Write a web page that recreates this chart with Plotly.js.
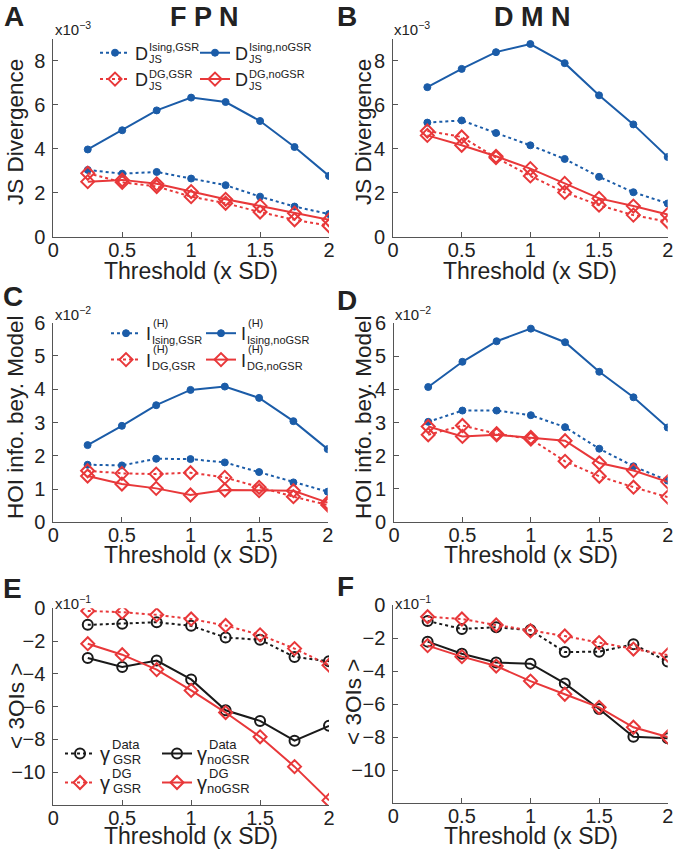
<!DOCTYPE html>
<html><head><meta charset="utf-8">
<script src="https://cdn.plot.ly/plotly-3.0.1.min.js"></script>
<style>html,body{margin:0;padding:0;background:#fff}#chart{width:676px;height:853px}</style>
</head><body><div id="chart"></div>
<script>
// ---------------- DATA ----------------
const thresholds = [0.25, 0.5, 0.75, 1, 1.25, 1.5, 1.75, 2];
const xTicks = [0, 0.5, 1, 1.5, 2];
const yTicksJS = [0, 2, 4, 6, 8];
const yTicksHOI = [0, 1, 2, 3, 4, 5, 6];
const yTicks3OI = [-10, -8, -6, -4, -2, 0];

// A: FPN, JS divergence (x1e-3)
const fpnJsIsingGSR   = [3.04, 2.87, 2.95, 2.65, 2.35, 1.83, 1.38, 1.04];
const fpnJsIsingNoGSR = [3.97, 4.84, 5.74, 6.32, 6.12, 5.26, 4.08, 2.77];
const fpnJsDgGSR      = [2.89, 2.48, 2.29, 1.83, 1.53, 1.13, 0.78, 0.51];
const fpnJsDgNoGSR    = [2.51, 2.59, 2.41, 2.06, 1.71, 1.41, 1.08, 0.78];
// B: DMN, JS divergence (x1e-3)
const dmnJsIsingGSR   = [5.18, 5.28, 4.71, 4.15, 3.53, 2.72, 2.02, 1.51];
const dmnJsIsingNoGSR = [6.79, 7.62, 8.38, 8.75, 7.88, 6.42, 5.10, 3.62];
const dmnJsDgGSR      = [4.80, 4.53, 3.59, 2.76, 2.01, 1.43, 0.98, 0.68];
const dmnJsDgNoGSR    = [4.60, 4.15, 3.65, 3.09, 2.42, 1.74, 1.39, 1.01];
// C: FPN, HOI info beyond model (x1e-2)
const fpnHoiIsingGSR   = [1.73, 1.71, 1.91, 1.90, 1.80, 1.51, 1.20, 0.92];
const fpnHoiIsingNoGSR = [2.32, 2.90, 3.52, 3.98, 4.08, 3.74, 3.04, 2.20];
const fpnHoiDgGSR      = [1.55, 1.47, 1.45, 1.49, 1.35, 1.05, 0.77, 0.52];
const fpnHoiDgNoGSR    = [1.39, 1.15, 1.02, 0.82, 0.97, 0.95, 0.95, 0.59];
// D: DMN, HOI info beyond model (x1e-2)
const dmnHoiIsingGSR   = [3.02, 3.36, 3.36, 3.22, 2.86, 2.21, 1.68, 1.25];
const dmnHoiIsingNoGSR = [4.07, 4.83, 5.45, 5.83, 5.42, 4.53, 3.76, 2.85];
const dmnHoiDgGSR      = [2.63, 2.91, 2.66, 2.50, 1.83, 1.38, 1.05, 0.75];
const dmnHoiDgNoGSR    = [2.88, 2.58, 2.63, 2.55, 2.45, 1.78, 1.55, 1.21];
// E: FPN, <3OIs> (x1e-1)
const fpn3oiDataGSR   = [-1.01, -0.95, -0.85, -1.07, -1.78, -1.92, -2.97, -3.23];
const fpn3oiDataNoGSR = [-3.03, -3.58, -3.19, -4.34, -6.22, -6.87, -8.08, -7.17];
const fpn3oiDgGSR     = [-0.16, -0.24, -0.40, -0.65, -1.05, -1.62, -2.46, -3.47];
const fpn3oiDgNoGSR   = [-2.16, -2.83, -3.74, -5.01, -6.36, -7.84, -9.66, -11.72];
// F: DMN, <3OIs> (x1e-1)
const dmn3oiDataGSR   = [-0.97, -1.45, -1.35, -1.52, -2.85, -2.83, -2.38, -3.43];
const dmn3oiDataNoGSR = [-2.22, -2.95, -3.49, -3.56, -4.75, -6.30, -7.98, -8.08];
const dmn3oiDgGSR     = [-0.71, -0.85, -1.21, -1.56, -1.88, -2.28, -2.67, -3.03];
const dmn3oiDgNoGSR   = [-2.46, -3.13, -3.70, -4.61, -5.41, -6.20, -7.41, -8.00];

// ---------------- STYLE ----------------
const W = 676, H = 853;
const FONT = 'Liberation Sans, Arial, Helvetica, sans-serif';
const BLUE = '#1b5ca8', RED = '#e8383a', BLACK = '#1a1a1a';
const px = v => v / W, py = v => 1 - v / H;

const sty = {
  isingGSR:   {color: BLUE, dash: 'dot',   symbol: 'circle', size: 7, lw: 1, fill: BLUE},
  isingNoGSR: {color: BLUE, dash: 'solid', symbol: 'circle', size: 7, lw: 1, fill: BLUE},
  dgGSR:      {color: RED,  dash: 'dot',   symbol: 'diamond-open', size: 10, lw: 2, fill: RED},
  dgNoGSR:    {color: RED,  dash: 'solid', symbol: 'diamond-open', size: 10, lw: 2, fill: RED},
  dataGSR:    {color: BLACK, dash: 'dot',  symbol: 'circle-open', size: 10, lw: 2, fill: BLACK},
  dataNoGSR:  {color: BLACK, dash: 'solid',symbol: 'circle-open', size: 10, lw: 2, fill: BLACK}
};
function tr(y, k, s, legend, name) {
  const st = sty[s];
  return {
    x: thresholds, y: y, xaxis: 'x' + k, yaxis: 'y' + k, type: 'scatter', mode: 'lines+markers',
    name: name || s, showlegend: !!legend, legend: legend || 'legend',
    line: {color: st.color, width: 2, dash: st.dash},
    marker: {symbol: st.symbol, size: st.size, color: st.fill, line: {color: st.color, width: st.lw}},
    hoverinfo: 'x+y'
  };
}
const data = [
  tr(fpnJsIsingGSR, '', 'isingGSR', 'legend', 'D'),
  tr(fpnJsDgGSR, '', 'dgGSR', 'legend', 'D'),
  tr(fpnJsIsingNoGSR, '', 'isingNoGSR', 'legend2', 'D'),
  tr(fpnJsDgNoGSR, '', 'dgNoGSR', 'legend2', 'D'),
  tr(dmnJsIsingGSR, '2', 'isingGSR'),
  tr(dmnJsIsingNoGSR, '2', 'isingNoGSR'),
  tr(dmnJsDgGSR, '2', 'dgGSR'),
  tr(dmnJsDgNoGSR, '2', 'dgNoGSR'),
  tr(fpnHoiIsingGSR, '3', 'isingGSR', 'legend3', 'I'),
  tr(fpnHoiDgGSR, '3', 'dgGSR', 'legend3', 'I'),
  tr(fpnHoiIsingNoGSR, '3', 'isingNoGSR', 'legend4', 'I'),
  tr(fpnHoiDgNoGSR, '3', 'dgNoGSR', 'legend4', 'I'),
  tr(dmnHoiIsingGSR, '4', 'isingGSR'),
  tr(dmnHoiIsingNoGSR, '4', 'isingNoGSR'),
  tr(dmnHoiDgGSR, '4', 'dgGSR'),
  tr(dmnHoiDgNoGSR, '4', 'dgNoGSR'),
  tr(fpn3oiDataGSR, '5', 'dataGSR', 'legend5', '\u03b3'),
  tr(fpn3oiDgGSR, '5', 'dgGSR', 'legend5', '\u03b3'),
  tr(fpn3oiDataNoGSR, '5', 'dataNoGSR', 'legend6', '\u03b3'),
  tr(fpn3oiDgNoGSR, '5', 'dgNoGSR', 'legend6', '\u03b3'),
  tr(dmn3oiDataGSR, '6', 'dataGSR'),
  tr(dmn3oiDgGSR, '6', 'dgGSR'),
  tr(dmn3oiDataNoGSR, '6', 'dataNoGSR'),
  tr(dmn3oiDgNoGSR, '6', 'dgNoGSR')
];

function xax(d0, d1, anchor) {
  return {domain: [px(d0), px(d1)], anchor: anchor, range: [0, 2], tickvals: xTicks,
    ticks: 'inside', ticklen: 5, tickcolor: '#555', showline: true, linecolor: '#555', linewidth: 1,
    showgrid: false, zeroline: false, tickfont: {family: FONT, size: 20, color: '#222'},
    ticklabelstandoff: -5};
}
function yax(top, bot, anchor, range, ticks) {
  return {domain: [py(bot), py(top)], anchor: anchor, range: range, tickvals: ticks,
    ticks: 'inside', ticklen: 5, tickcolor: '#555', showline: true, linecolor: '#555', linewidth: 1,
    showgrid: false, zeroline: false, tickfont: {family: FONT, size: 20, color: '#222'},
    ticklabelstandoff: 3};
}
function leg(xl, yt, fs) {
  return {x: px(xl), y: py(yt), xanchor: 'left', yanchor: 'top', bgcolor: 'rgba(0,0,0,0)',
    borderwidth: 0, font: {family: FONT, size: fs, color: '#222'}, itemwidth: 30, tracegroupgap: 0,
    orientation: 'v'};
}

const ann = [];
function txt(t, x, y, size, opts) {
  ann.push(Object.assign({text: t, x: px(x), y: py(y), xref: 'paper', yref: 'paper', showarrow: false,
    xanchor: 'left', yanchor: 'middle', font: {family: FONT, size: size, color: '#222'}}, opts || {}));
}
// panel letters & network titles
txt('<b>A</b>', 14, 17, 28, {xanchor: 'center'});
txt('<b>B</b>', 347, 17, 28, {xanchor: 'center'});
txt('<b>C</b>', 13, 297, 28, {xanchor: 'center'});
txt('<b>D</b>', 347, 300, 28, {xanchor: 'center'});
txt('<b>E</b>', 12, 588, 28, {xanchor: 'center'});
txt('<b>F</b>', 345, 586, 28, {xanchor: 'center'});
txt('<b>F P N</b>', 204, 17, 27, {xanchor: 'center'});
txt('<b>D M N</b>', 532, 17, 27, {xanchor: 'center'});
// axis titles
const xTitle = 'Threshold (x SD)';
[[191, 271], [530, 271], [190.5, 555], [531, 555], [191, 836], [530.5, 836]].forEach(p =>
  txt(xTitle, p[0], p[1], 23, {xanchor: 'center'}));
[['JS Divergence', 15, 132], ['JS Divergence', 363, 132],
 ['HOI info. bey. Model', 15, 418], ['HOI info. bey. Model', 363, 418],
 ['< 3OIs >', 16, 706], ['< 3OIs >', 353, 702]].forEach(p =>
  txt(p[0], p[1], p[2], 22.5, {xanchor: 'center', textangle: -90}));
// exponent labels
txt('x10<sup>\u22123</sup>', 53, 28, 15);
txt('x10<sup>\u22123</sup>', 392, 28, 15);
txt('x10<sup>\u22122</sup>', 53, 313, 15);
txt('x10<sup>\u22122</sup>', 393, 313, 15);
txt('x10<sup>\u22121</sup>', 53, 602, 15);
txt('x10<sup>\u22121</sup>', 393, 602, 15);

// stacked super/subscripts for legend entries
function lab(sup, sub, xs, yc, fs, dUp, dDn, xsub) {
  txt(sup, xs, yc - dUp, fs);
  txt(sub, xsub === undefined ? xs : xsub, yc + dDn, fs);
}
// A
lab('Ising,GSR', 'JS', 147, 53, 11, 6, 6.5);
lab('Ising,noGSR', 'JS', 247, 53, 11, 6, 6.5);
lab('DG,GSR', 'JS', 147, 79.5, 11, 6, 6.5);
lab('DG,noGSR', 'JS', 247, 79.5, 11, 6, 6.5);
// C
lab('(H)', 'Ising,GSR', 151, 333.5, 11, 10.5, 6, 150);
lab('(H)', 'Ising,noGSR', 246, 333.5, 11, 10.5, 6, 245);
lab('(H)', 'DG,GSR', 151, 360, 11, 10.5, 6, 150);
lab('(H)', 'DG,noGSR', 246, 360, 11, 10.5, 6, 245);
// E
lab('Data', 'GSR', 110, 753, 13, 9, 6, 111);
lab('Data', 'noGSR', 207, 753, 13, 9, 6, 205);
lab('DG', 'GSR', 110, 782, 13, 9, 6, 111);
lab('DG', 'noGSR', 207, 782, 13, 9, 6, 205);

const layout = {
  width: W, height: H, margin: {l: 0, r: 0, t: 0, b: 0},
  paper_bgcolor: '#fff', plot_bgcolor: '#fff', showlegend: true,
  font: {family: FONT, color: '#222'},
  xaxis:  xax(53.3, 329, 'y'),
  yaxis:  yax(38.5, 237, 'x', [0, 9], yTicksJS),
  xaxis2: xax(393, 667.7, 'y2'),
  yaxis2: yax(38.5, 236.7, 'x2', [0, 9], yTicksJS),
  xaxis3: xax(53.3, 327.7, 'y3'),
  yaxis3: yax(322.7, 522.3, 'x3', [0, 6], yTicksHOI),
  xaxis4: xax(394, 667.7, 'y4'),
  yaxis4: yax(323, 522, 'x4', [0, 6], yTicksHOI),
  xaxis5: xax(53.3, 329, 'y5'),
  yaxis5: yax(608.3, 805, 'x5', [-12, 0], yTicks3OI),
  xaxis6: xax(393.3, 667.7, 'y6'),
  yaxis6: yax(605, 803, 'x6', [-12, 0], yTicks3OI),
  legend:  leg(95, 34.5, 18),
  legend2: leg(195, 34.5, 18),
  legend3: leg(106, 315, 18),
  legend4: leg(201, 315, 18),
  legend5: leg(60, 734, 20),
  legend6: leg(157, 734, 20),
  annotations: ann
};
Plotly.newPlot('chart', data, layout, {displayModeBar: false, staticPlot: true});
</script></body></html>
